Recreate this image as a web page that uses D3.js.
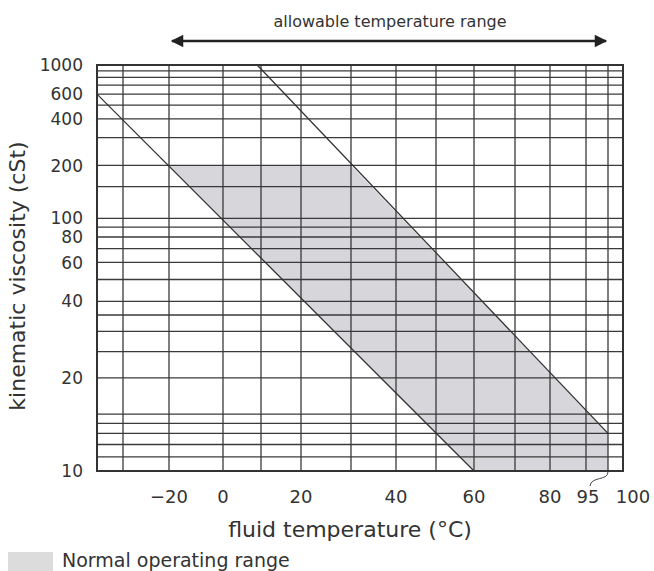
<!DOCTYPE html>
<html>
<head>
<meta charset="utf-8">
<script src="https://cdn.jsdelivr.net/npm/d3@7"></script>
<style>
  body { margin: 0; background: #fff; }
  text { font-family: "DejaVu Sans", "Open Sans", sans-serif; fill: #333; }
</style>
</head>
<body>
<div id="chart"></div>
<script>
var width = 654,
    height = 571;

// data
var yTicks = [1000, 600, 400, 200, 100, 80, 60, 40, 20, 10];
var yGrid = [11, 12, 13, 14, 15, 20, 25, 30, 35, 40, 50, 60, 70, 80, 90, 100, 150, 200, 300, 400, 500, 600, 700, 800, 900];
var xTicks = [-20, 0, 20, 40, 60, 80, 95, 100];
var xGrid = [-30, -20, 0, 10, 20, 30, 40, 50, 60, 70, 80, 90, 95];
var lowerLine = [[-35, 600], [60, 10]];
var upperLine = [[9, 1000], [95, 13]];
var operatingRange = [[-20, 200], [30, 200], [95, 13], [95, 10], [60, 10]];
var allowableRange = [-20, 95];

var svg = d3.select("#chart")
    .append("svg")
    .attr("width", width)
    .attr("height", height);

// temperature axis of the printed chart is not evenly spaced
var x = d3.scaleLinear()
    .domain([-35, -30, -20, 0, 10, 20, 30, 40, 50, 60, 70, 80, 90, 95, 100])
    .range([97, 123, 169, 223, 261, 301, 351, 396, 436, 474, 515, 550, 586, 608, 623]);

// viscosity axis uses the Walther scale log(log(v + 0.7))
function walther(v) {
    return Math.log10(Math.log10(v + 0.7));
}
var yw = d3.scaleLinear()
    .domain([walther(10), walther(1000)])
    .range([471, 65]);
function y(v) {
    return yw(walther(v));
}

var plotLeft = x(-35), plotRight = x(100), plotTop = y(1000), plotBottom = y(10);
var gridColor = "#3a3a3a";

// shaded normal operating range
svg.append("path")
    .datum(operatingRange)
    .attr("d", d3.line().x(function(d) { return x(d[0]); }).y(function(d) { return y(d[1]); }).curve(d3.curveLinearClosed))
    .style("fill", "#d6d6db");

// grid
svg.append("g").selectAll("line")
    .data(yGrid)
    .enter().append("line")
    .attr("x1", plotLeft).attr("x2", plotRight)
    .attr("y1", function(d) { return y(d); })
    .attr("y2", function(d) { return y(d); })
    .attr("stroke", gridColor)
    .attr("stroke-width", 1.3);

svg.append("g").selectAll("line")
    .data(xGrid)
    .enter().append("line")
    .attr("x1", function(d) { return x(d); })
    .attr("x2", function(d) { return x(d); })
    .attr("y1", plotTop).attr("y2", plotBottom)
    .attr("stroke", gridColor)
    .attr("stroke-width", 1.3);

// the two viscosity lines
var line = d3.line().x(function(d) { return x(d[0]); }).y(function(d) { return y(d[1]); });
[lowerLine, upperLine].forEach(function(l) {
    svg.append("path")
        .datum(l)
        .attr("d", line)
        .attr("fill", "none")
        .attr("stroke", "#333")
        .attr("stroke-width", 1.3);
});

// frame
svg.append("rect")
    .attr("x", plotLeft).attr("y", plotTop)
    .attr("width", plotRight - plotLeft).attr("height", plotBottom - plotTop)
    .attr("fill", "none")
    .attr("stroke", "#333")
    .attr("stroke-width", 2);

// y tick labels
svg.append("g").selectAll("text")
    .data(yTicks)
    .enter().append("text")
    .text(function(d) { return d; })
    .attr("x", plotLeft - 14)
    .attr("y", function(d) { return y(d); })
    .attr("dy", "0.36em")
    .attr("text-anchor", "end")
    .style("font-size", "17px");

// x tick labels
var fmt = d3.format("d");
svg.append("g").selectAll("text")
    .data(xTicks)
    .enter().append("text")
    .text(function(d) { return fmt(d); })
    .attr("x", function(d) {
        if (d == 95) return x(90) + 2;
        if (d == 100) return x(100) + 10;
        return x(d);
    })
    .attr("y", plotBottom + 32)
    .attr("text-anchor", "middle")
    .style("font-size", "18px");

// leader from the 95 line to its label
var x95 = x(95);
svg.append("path")
    .attr("d", "M" + x95 + "," + (plotBottom + 1) + " C" + x95 + "," + (plotBottom + 10) + " " + (x95 - 17) + "," + (plotBottom + 5) + " " + (x95 - 18) + "," + (plotBottom + 15))
    .attr("fill", "none")
    .attr("stroke", "#444")
    .attr("stroke-width", 1);

// axis titles
svg.append("text")
    .text("fluid temperature (°C)")
    .attr("x", 350)
    .attr("y", plotBottom + 66)
    .attr("text-anchor", "middle")
    .style("font-size", "22px");

svg.append("text")
    .text("kinematic viscosity (cSt)")
    .attr("transform", "translate(25,276) rotate(-90)")
    .attr("text-anchor", "middle")
    .style("font-size", "22px");

// allowable temperature range arrow
var defs = svg.append("defs");
defs.append("marker")
    .attr("id", "head")
    .attr("viewBox", "0 0 10 10")
    .attr("refX", 9).attr("refY", 5)
    .attr("markerWidth", 6).attr("markerHeight", 5)
    .attr("markerUnits", "strokeWidth")
    .attr("orient", "auto-start-reverse")
    .append("path")
    .attr("d", "M0,0 L10,5 L0,10 z")
    .attr("fill", "#222");

svg.append("line")
    .attr("x1", x(allowableRange[0]) + 3)
    .attr("x2", x(allowableRange[1]) - 2)
    .attr("y1", 41).attr("y2", 41)
    .attr("stroke", "#222")
    .attr("stroke-width", 2.5)
    .attr("marker-start", "url(#head)")
    .attr("marker-end", "url(#head)");

svg.append("text")
    .text("allowable temperature range")
    .attr("x", 390)
    .attr("y", 27)
    .attr("text-anchor", "middle")
    .style("font-size", "16px");

// legend
svg.append("rect")
    .attr("x", 8).attr("y", 552)
    .attr("width", 45).attr("height", 19)
    .style("fill", "#dcdcdc");
svg.append("text")
    .text("Normal operating range")
    .attr("x", 62)
    .attr("y", 567)
    .style("font-size", "19px");
</script>
</body>
</html>
